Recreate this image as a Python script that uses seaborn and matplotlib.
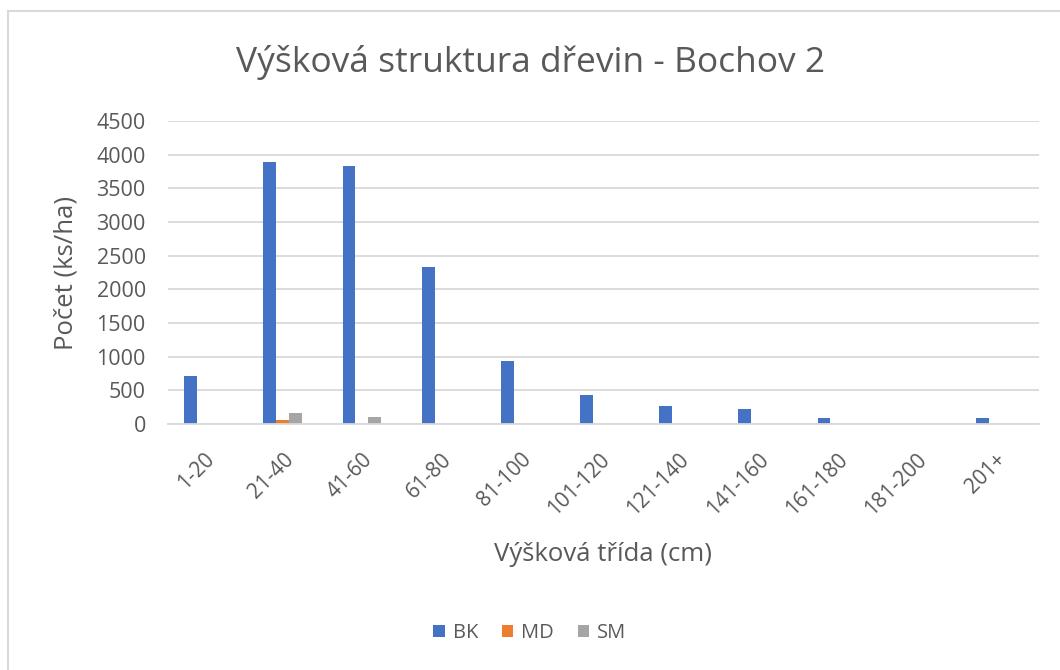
import matplotlib
matplotlib.use("Agg")
import matplotlib.pyplot as plt
import seaborn as sns
import pandas as pd
from matplotlib.patches import Rectangle

categories = ["1-20", "21-40", "41-60", "61-80", "81-100", "101-120",
              "121-140", "141-160", "161-180", "181-200", "201+"]
bk = [712, 3890, 3825, 2334, 936, 436, 267, 223, 94, 0, 94]
md = [0, 60, 0, 0, 0, 0, 0, 0, 0, 0, 0]
sm = [0, 165, 100, 0, 0, 0, 0, 0, 0, 0, 0]
series_names = ["BK", "MD", "SM"]
colors = ["#4472C4", "#ED7D31", "#A5A5A5"]

rows = []
for name, vals in zip(series_names, [bk, md, sm]):
    for c, v in zip(categories, vals):
        rows.append({"Třída": c, "Počet": v, "Dřevina": name})
df = pd.DataFrame(rows)

sns.set_theme(style="white")
plt.rcParams['font.family'] = ['Open Sans', 'DejaVu Sans']
txt = "#595959"

fig = plt.figure(figsize=(10.6, 6.7), dpi=100)
ax = fig.add_axes([0.1585, 0.367, 0.8215, 0.4524])

sns.barplot(data=df, x="Třída", y="Počet", hue="Dřevina", order=categories,
            hue_order=series_names, palette=colors, width=0.49, gap=0,
            saturation=1, ax=ax, legend=True, edgecolor="none")

ax.set_xlim(-0.45, 10.55)
ax.set_ylim(0, 4500)
ax.set_yticks(range(0, 4501, 500))
ax.yaxis.grid(True, color="#D9D9D9", linewidth=1.3)
ax.set_axisbelow(True)
for s in ["top", "right", "left"]:
    ax.spines[s].set_visible(False)
ax.spines["bottom"].set_color("#D9D9D9")
ax.spines["bottom"].set_linewidth(1.3)
ax.tick_params(axis="both", length=0, colors=txt)
ax.tick_params(axis="y", pad=16, labelsize=15.5)
ax.tick_params(axis="x", pad=18, labelsize=15)
plt.setp(ax.get_xticklabels(), rotation=45, ha="right", rotation_mode="anchor")

ax.set_xlabel("Výšková třída (cm)", fontsize=18.5, color=txt)
ax.set_ylabel("Počet (ks/ha)", fontsize=18.5, color=txt)
ax.xaxis.set_label_coords(0.5, -0.39)
ax.yaxis.set_label_coords(-0.103, 0.5)

fig.text(0.5, 1 - 62 / 670, "Výšková struktura dřevin - Bochov 2",
         ha="center", va="center", fontsize=25.5, color=txt)

leg = ax.get_legend()
handles = leg.legend_handles
leg.remove()
fig.legend(handles, series_names, loc="center", bbox_to_anchor=(0.5, 1 - 633 / 670),
           ncol=3, frameon=False, fontsize=14.5, labelcolor=txt,
           handlelength=0.55, handleheight=0.55, handletextpad=0.4, columnspacing=1.2)

fig.patches.append(Rectangle((8 / 1060, -0.01), 1.1, 1 - 11 / 670 + 0.01,
                             transform=fig.transFigure, fill=False,
                             edgecolor="#D9D9D9", linewidth=1.5))

fig.savefig("out.png", dpi=100, facecolor="white")
